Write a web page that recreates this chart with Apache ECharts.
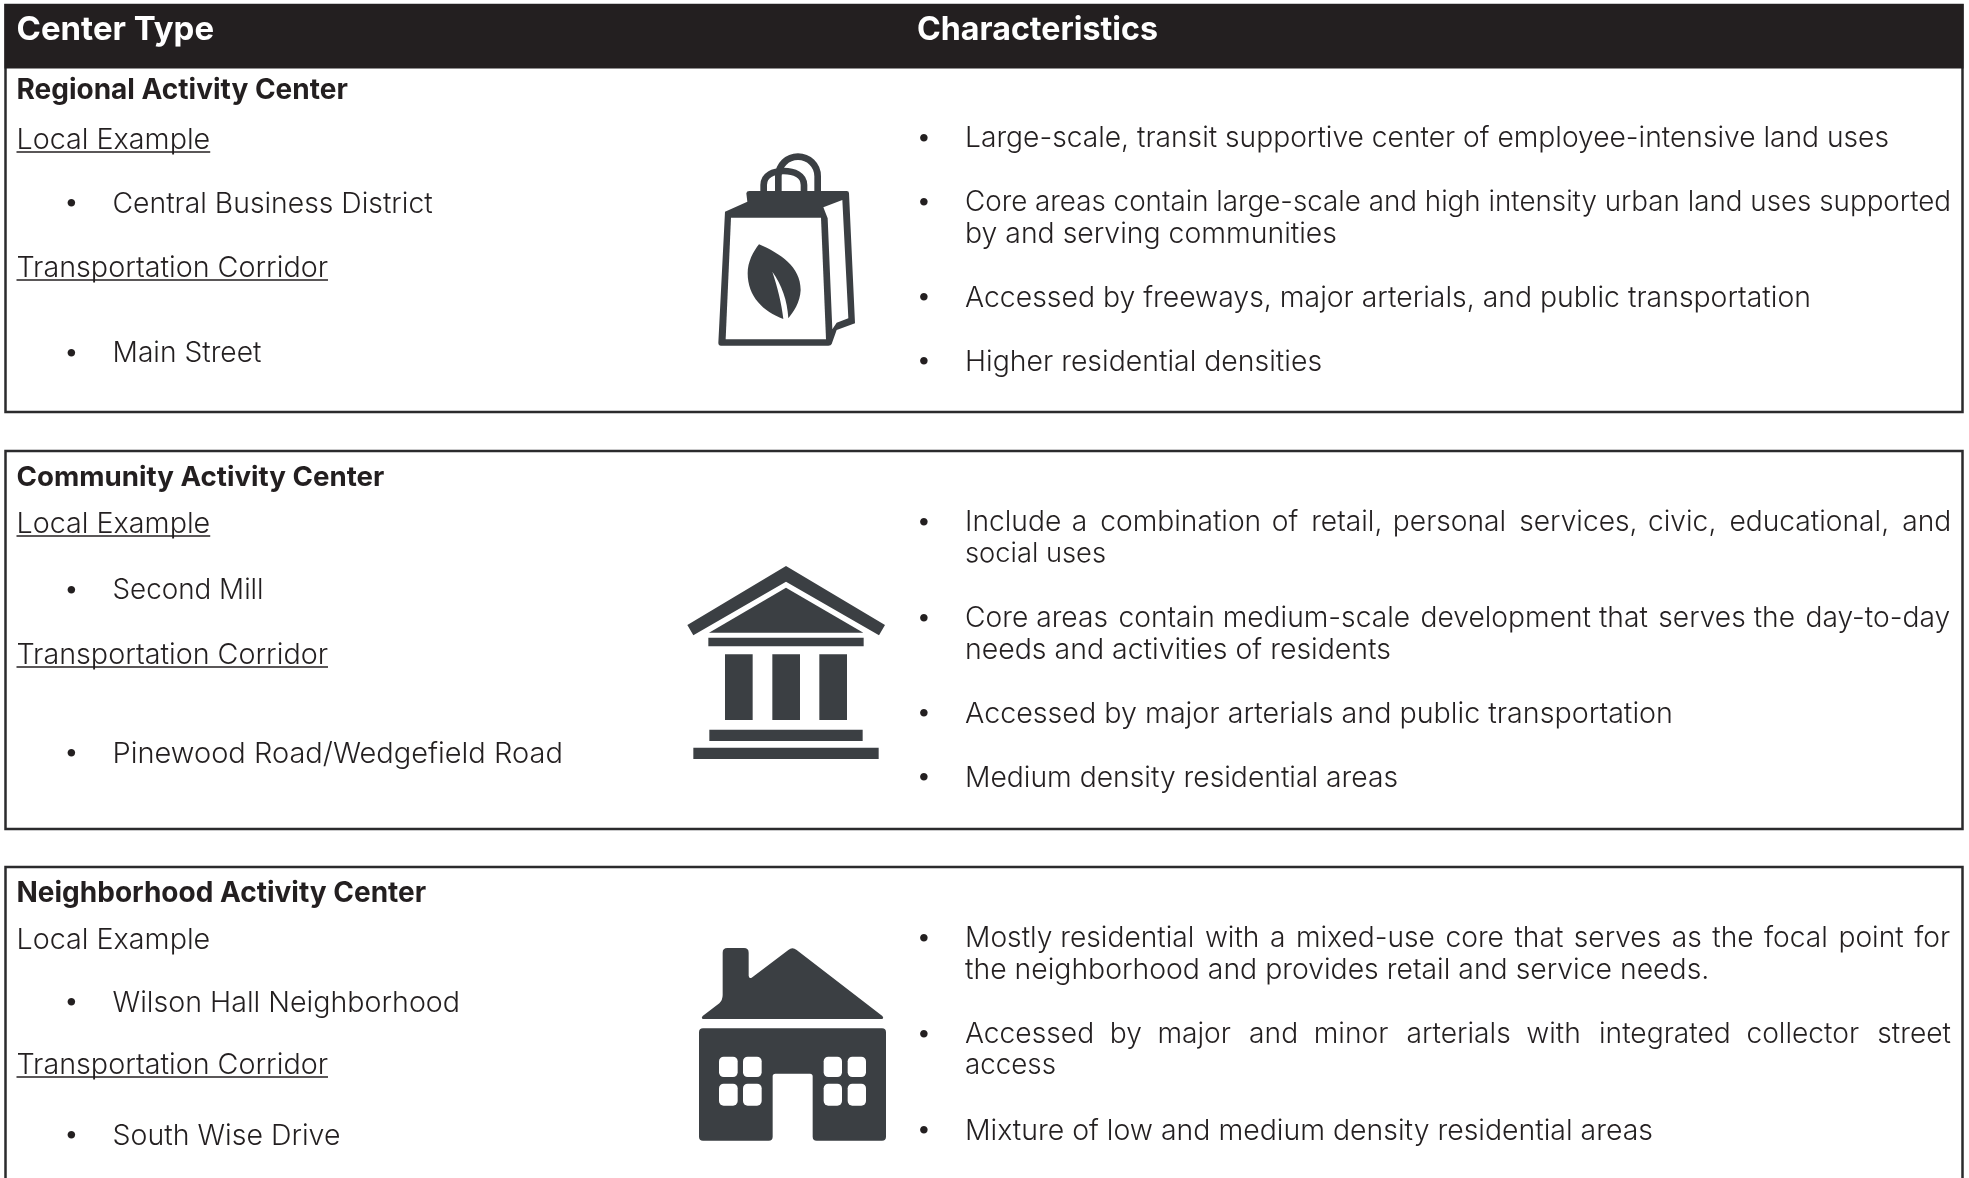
<!DOCTYPE html>
<html>
<head>
<meta charset="utf-8">
<title>Center types</title>
<style>
  html, body { margin: 0; padding: 0; background: #fff; }
  #main { width: 1969px; height: 1178px; }
</style>
<script src="https://cdn.jsdelivr.net/npm/echarts@6/dist/echarts.min.js"></script>
</head>
<body>
<div id="main"></div>
<script>
// table text
const headers = ['Center Type', 'Characteristics']
const centerNames = ['Regional Activity Center', 'Community Activity Center', 'Neighborhood Activity Center']
const exampleLabel = 'Local Example'
const corridorLabel = 'Transportation Corridor'
const localExamples = ['Central Business District', 'Second Mill', 'Wilson Hall Neighborhood']
const corridors = ['Main Street', 'Pinewood Road/Wedgefield Road', 'South Wise Drive']
const regionalTraits = [
  ['Large-scale, transit supportive center of employee-intensive land uses'],
  ['Core areas contain large-scale and high intensity urban land uses supported', 'by and serving communities'],
  ['Accessed by freeways, major arterials, and public transportation'],
  ['Higher residential densities']
]
const communityTraits = [
  ['Include a combination of retail, personal services, civic, educational, and', 'social uses'],
  ['Core areas contain medium-scale development that serves the day-to-day', 'needs and activities of residents'],
  ['Accessed by major arterials and public transportation'],
  ['Medium density residential areas']
]
const neighborhoodTraits = [
  ['Mostly residential with a mixed-use core that serves as the focal point for', 'the neighborhood and provides retail and service needs.'],
  ['Accessed by major and minor arterials with integrated collector street', 'access'],
  ['Mixture of low and medium density residential areas']
]
const traits = [regionalTraits, communityTraits, neighborhoodTraits]

// layout, in page pixels
const boxes = [[5, 412], [451, 829], [867, 1200]]
const titleY = [91, 478, 894]
const exampleLabelY = [140, 524, 940]
const exampleY = [204, 591, 1003]
const corridorLabelY = [268, 655, 1065]
const corridorY = [354, 754, 1136]
const traitY = [
  [[139], [203, 234], [298], [362]],
  [[523, 554], [619, 650], [714], [778]],
  [[939, 970], [1035, 1066], [1131]]
]
// right end of each characteristics line
const traitEnd = [
  [[1889], [1951, 1337], [1811], [1322]],
  [[1951, 1106], [1951, 1391], [1673], [1398]],
  [[1951, 1709], [1951, 1056], [1653]]
]
const underlined = [[true, true], [true, true], [false, true]]
const exampleSize = [28.3, 27.8, 28.6]
const corridorSize = [28.2, 29, 28.5]

const FONT = 'Inter, "Open Sans", sans-serif'
const TEXT_COLOR = '#231f20'
const ICON_COLOR = '#3b3f43'
const BODY_SIZE = 28.2
const LEFT_X = 16.5
const TRAIT_X = 965

const ctx = document.createElement('canvas').getContext('2d')
function measure (str, size) {
  ctx.font = '300 ' + size + 'px ' + FONT
  return ctx.measureText(str).width
}

function label (str, x, y, weight, size, color) {
  return {
    type: 'text',
    x: x,
    y: y,
    style: {
      text: str,
      fill: color || TEXT_COLOR,
      font: weight + ' ' + size + 'px ' + FONT,
      textVerticalAlign: 'middle'
    }
  }
}

// size that makes the string exactly as wide as it is in the table
function fitSize (str, width) {
  return BODY_SIZE * width / measure(str, BODY_SIZE)
}

// pad the gaps with hair spaces so the line reaches the right margin
function justified (str, width) {
  const words = str.split(' ')
  const hair = measure('\u200a', BODY_SIZE)
  const extra = width - measure(str, BODY_SIZE)
  if (extra <= 0 || hair <= 0) return str
  const total = Math.round(extra / hair)
  const gaps = words.length - 1
  let out = words[0]
  for (let i = 1; i < words.length; i++) {
    const n = Math.floor(total * i / gaps) - Math.floor(total * (i - 1) / gaps)
    out += ' ' + '\u200a'.repeat(n) + words[i]
  }
  return out
}

function traitLine (line, first, y, end) {
  const width = end - TRAIT_X
  if (first && measure(line, BODY_SIZE) < width) {
    return label(justified(line, width), TRAIT_X, y, 300, BODY_SIZE)
  }
  return label(line, TRAIT_X, y, 300, fitSize(line, width))
}

function underlinedLabel (str, y, on) {
  const size = 28.7
  const items = [label(str, LEFT_X, y, 300, size)]
  if (on) {
    const w = measure(str, size)
    items.push({
      type: 'line',
      shape: { x1: LEFT_X, y1: y + 12, x2: LEFT_X + w, y2: y + 12 },
      style: { stroke: TEXT_COLOR, lineWidth: 1.5 }
    })
  }
  return items
}

function bullet (x, y) {
  return label('\u2022', x, y - 1, 300, 28)
}

// graphic has no plain path type, so the svg outlines get registered as shapes
function outline (name, pathData, style) {
  echarts.graphic.registerShape(name, echarts.graphic.extendPath(pathData, {}))
  return { type: name, style: style || { fill: ICON_COLOR } }
}

function white (x, y, w, h, r) {
  return { type: 'rect', shape: { x: x, y: y, width: w, height: h, r: r || 0 }, style: { fill: '#fff' } }
}

function block (x, y, w, h, r) {
  return { type: 'rect', shape: { x: x, y: y, width: w, height: h, r: r || 0 }, style: { fill: ICON_COLOR } }
}

// icons are drawn at 3x and scaled down
function icon (x, y, children) {
  return { type: 'group', x: x, y: y, scaleX: 1 / 3, scaleY: 1 / 3, children: children }
}

const handleStyle = { fill: null, stroke: ICON_COLOR, lineWidth: 20 }

const bagIcon = icon(660, 130, [
  outline('bagHandleBack', 'M355 190V139C355 105 382 80 414 80C446 80 473 105 473 139V190', handleStyle),
  outline('bagHandleFront', 'M311 190V165C311 135 340 123 371 123C402 123 432 135 432 165V190', handleStyle),
  outline('bagBody', 'M195 245L262 215L259 190Q260 183 268 183L560 183Q567 183 567 190L585 580L530 600L515 642Q513 647 505 647L183 647Q175 647 175 638Z'),
  { type: 'polygon', shape: { points: [[213, 263], [483, 263], [498, 628], [197, 628]] }, style: { fill: '#fff' } },
  { type: 'polygon', shape: { points: [[490, 232], [547, 210], [565, 565], [530, 578], [517, 598], [503, 265]] }, style: { fill: '#fff' } },
  outline('bagLeaf', 'M297 343C360 370 422 410 422 480C420 520 400 545 385 565C382 510 365 465 337 425C352 470 365 520 370 567C310 545 263 500 263 430C263 395 280 365 297 343Z')
])

const templeIcon = icon(660, 550, [
  { type: 'polygon', shape: { points: [[378, 48], [675, 225], [657, 256], [378, 95], [100, 256], [82, 225]] }, style: { fill: ICON_COLOR } },
  { type: 'polygon', shape: { points: [[378, 113], [610, 248], [147, 248]] }, style: { fill: ICON_COLOR } },
  block(145, 263, 466, 26),
  block(195, 313, 83, 197),
  block(337, 313, 83, 197),
  block(478, 313, 83, 197),
  block(148, 539, 460, 34),
  block(100, 593, 556, 34)
])

const houseIcon = icon(660, 930, [
  outline('houseRoof', 'M130 267L665 267Q673 266 667 258L410 60Q397 50 385 60L275 143Q267 147 266 137L266 68Q266 54 252 54L202 54Q188 54 188 68L188 195Q188 210 178 220L128 258Q122 266 130 267Z'),
  outline('houseBody', 'M129 295H666Q678 295 678 307V620Q678 632 666 632H470Q458 632 458 620V439Q458 431 450 431H346Q338 431 338 439V620Q338 632 326 632H129Q117 632 117 620V307Q117 295 129 295Z'),
  white(177, 380, 56, 61, 14),
  white(249, 380, 56, 61, 14),
  white(177, 461, 56, 66, 14),
  white(249, 461, 56, 66, 14),
  white(491, 380, 55, 61, 14),
  white(563, 380, 55, 61, 14),
  white(491, 461, 55, 66, 14),
  white(563, 461, 55, 66, 14)
])

const elements = []

// frames
boxes.forEach(function (b) {
  elements.push({
    type: 'rect',
    shape: { x: 5.5, y: b[0], width: 1957, height: b[1] - b[0] },
    style: { fill: '#fff', stroke: '#2b2b2d', lineWidth: 2.5 }
  })
})

// header band
elements.push({ type: 'rect', shape: { x: 4.5, y: 4, width: 1959, height: 64.5 }, style: { fill: TEXT_COLOR } })
elements.push(label(headers[0], LEFT_X, 30, 700, 33, '#fff'))
elements.push(label(headers[1], 917, 30, 700, 32.2, '#fff'))

centerNames.forEach(function (name, i) {
  elements.push(label(name, LEFT_X, titleY[i], 700, i === 1 ? 27.7 : 28))
  underlinedLabel(exampleLabel, exampleLabelY[i], underlined[i][0]).forEach(function (e) { elements.push(e) })
  elements.push(bullet(63.5, exampleY[i]))
  elements.push(label(localExamples[i], 112.5, exampleY[i], 300, exampleSize[i]))
  underlinedLabel(corridorLabel, corridorLabelY[i], underlined[i][1]).forEach(function (e) { elements.push(e) })
  elements.push(bullet(63.5, corridorY[i]))
  elements.push(label(corridors[i], 112.5, corridorY[i], 300, corridorSize[i]))

  traits[i].forEach(function (lines, j) {
    elements.push(bullet(916, traitY[i][j][0]))
    lines.forEach(function (line, k) {
      elements.push(traitLine(line, k === 0 && lines.length > 1, traitY[i][j][k], traitEnd[i][j][k]))
    })
  })
})

elements.push(bagIcon, templeIcon, houseIcon)

const myChart = echarts.init(document.getElementById('main'))
myChart.setOption({
  backgroundColor: '#fff',
  animation: false,
  graphic: { elements: elements }
})
</script>
</body>
</html>
